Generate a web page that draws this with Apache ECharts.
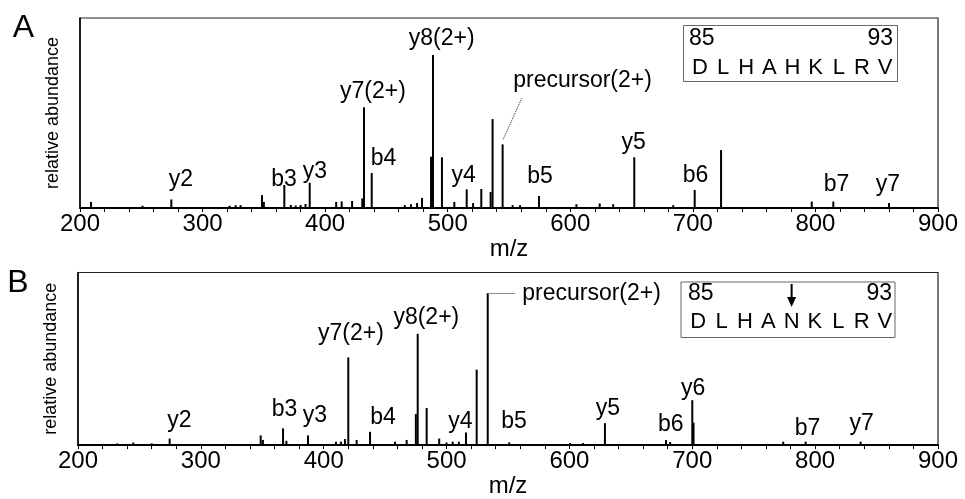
<!DOCTYPE html>
<html><head><meta charset="utf-8">
<script src="https://cdn.jsdelivr.net/npm/echarts@6/dist/echarts.min.js"></script>
<style>html,body{margin:0;padding:0;background:#fff}#c{width:965px;height:499px}</style>
</head><body><div id="c"></div>
<script>
// ---------- data ----------
const xTicks = [200, 300, 400, 500, 600, 700, 800, 900];

// Panel A (wild type): peak m/z and relative height (% of panel height)
const peaksA_mz  = [209, 251, 274.5, 322, 327, 331, 348.5, 350, 366.7, 372, 376, 380, 384, 387.4, 409, 413.5, 422, 430.3, 431.7, 438, 465, 470, 475, 479, 486.4, 488, 495.3, 505.4, 515.5, 520.7, 527.4, 535, 536.6, 544.8, 553, 559, 574.5, 605, 624, 635, 652.2, 684, 701.5, 723, 797, 814.6, 860];
const peaksA_int = [3.2, 1.2, 4.5, 1.2, 1.5, 1.5, 6.8, 3.2, 12.1, 1.6, 1.3, 1.6, 2.1, 13.3, 3.2, 3.5, 3.7, 5, 53, 18.4, 1.5, 2, 2.6, 5.3, 27, 80.5, 26.7, 3.2, 9.8, 2.6, 10, 8.4, 46.8, 33.5, 1.5, 1.5, 6.3, 2, 2.4, 2, 26.7, 1.5, 9.5, 30.5, 3.4, 3.4, 2.6];

// Panel B (mutant): peak m/z and relative height
const peaksB_mz  = [232, 245, 260, 274.6, 348.7, 350.5, 366.9, 369.6, 387.2, 410, 414, 417.3, 420, 426.8, 437.7, 458, 467.5, 475, 476.5, 483.8, 494, 500, 505, 510, 515.8, 524.5, 533.5, 551, 600.5, 611, 628.9, 678.6, 682, 700, 701, 774, 792.3, 837];
const peaksB_int = [1, 1.5, 1, 3.8, 5.6, 3, 9.7, 2.5, 5.6, 2, 2, 3.5, 50.8, 3, 7.7, 2, 3, 18, 64.5, 21.5, 3.8, 1.5, 2, 2, 7.3, 43.7, 88, 1.6, 1.2, 1.2, 12.7, 2.9, 1.8, 26, 13, 2, 2, 2];

// Fragment annotations: label, m/z position, height level
const annA_text  = ['y2', 'b3', 'y3', 'y7(2+)', 'b4', 'y8(2+)', 'y4', 'precursor(2+)', 'b5', 'y5', 'b6', 'b7', 'y7'];
const annA_mz    = [282.4, 366.4, 391.7, 439.0, 447.6, 495.1, 512.9, 610.0, 575.3, 651.6, 702.2, 817.2, 859.2];
const annA_level = [14.7, 14.7, 18.9, 61.1, 25.9, 89.1, 17.2, 67.2, 16.3, 34.4, 17.2, 12.3, 12.3];

const annB_text  = ['y2', 'b3', 'y3', 'y7(2+)', 'b4', 'y8(2+)', 'y4', 'b5', 'precursor(2+)', 'y5', 'b6', 'y6', 'b7', 'y7'];
const annB_mz    = [282.6, 368.1, 392.9, 422.2, 448.2, 483.5, 511.3, 554.9, 618.0, 631.4, 682.5, 700.8, 793.8, 837.9];
const annB_level = [14.3, 20.5, 16.9, 64.8, 16.1, 74.0, 13.4, 13.4, 87.9, 21.4, 11.6, 32.9, 9.8, 12.5];

// precursor leader lines [mz, level]
const leaderA = [[560.4, 57.7], [545, 35.8]];
const leaderB = [[535, 88], [555.7, 88]];

// peptide sequence insets
const seqStart = '85', seqEnd = '93';
const seqA = ['D', 'L', 'H', 'A', 'H', 'K', 'L', 'R', 'V'];
const seqB = ['D', 'L', 'H', 'A', 'N', 'K', 'L', 'R', 'V'];
const mutationIndex = 4;

// ---------- chart ----------
const FF = '"Liberation Sans", Arial, Helvetica, sans-serif';
const INK = '#000';
const chart = echarts.init(document.getElementById('c'), null, {renderer: 'canvas'});

function xAxis(gi, gap) {
  return {
    gridIndex: gi, type: 'value', min: 200, max: 900, interval: 100,
    axisLine: {show: true, onZero: false, lineStyle: {color: '#000', width: 2}},
    axisTick: {show: true, length: 4, lineStyle: {color: '#000', width: 1}},
    minorTick: {show: true, splitNumber: 5, length: 4, lineStyle: {color: '#000', width: 1}},
    splitLine: {show: false},
    axisLabel: {fontSize: 24, color: INK, fontFamily: FF, margin: 4,
      formatter: v => xTicks.indexOf(v) >= 0 ? String(v) : ''},
    name: 'm/z', nameLocation: 'middle', nameGap: gap,
    nameTextStyle: {fontSize: 24, color: INK, fontFamily: FF}
  };
}
function yAxis(gi) {
  return {
    gridIndex: gi, type: 'value', min: 0, max: 100,
    axisLine: {show: true, lineStyle: {color: '#000', width: 1.5}},
    axisTick: {show: false}, axisLabel: {show: false}, splitLine: {show: false},
    name: 'relative abundance', nameLocation: 'middle', nameGap: 18,
    nameTextStyle: {fontSize: 18, color: INK, fontFamily: FF}
  };
}
function bars(gi, mz, h) {
  return {
    type: 'bar', xAxisIndex: gi, yAxisIndex: gi, barWidth: 2,
    data: mz.map((m, i) => [m, h[i]]),
    itemStyle: {color: INK, opacity: 1}, silent: true, animation: false
  };
}
function labels(gi, txt, mz, lv, leader) {
  return {
    type: 'scatter', xAxisIndex: gi, yAxisIndex: gi, symbolSize: 0, silent: true, animation: false, z: 5,
    itemStyle: {opacity: 1},
    data: txt.map((t, i) => ({name: t, value: [mz[i], lv[i]]})),
    label: {show: true, position: 'inside', formatter: '{b}', fontSize: 23, color: INK, opacity: 1, fontFamily: FF},
    markLine: {
      symbol: 'none', silent: true, animation: false, label: {show: false},
      lineStyle: {type: 'dotted', color: '#222', width: 1, opacity: 1},
      data: [[{coord: leader[0]}, {coord: leader[1]}]]
    }
  };
}

const gText = (x, y, text, size, align) => ({
  type: 'text', x, y, silent: true,
  style: {text, fontSize: size, fontFamily: FF, fill: INK, align: align || 'center', verticalAlign: 'middle'}
});

const graphics = [];
graphics.push(gText(23.5, 28, 'A', 32));
graphics.push(gText(18, 283, 'B', 32));
// inset A
graphics.push({type: 'rect', shape: {x: 683.5, y: 25.5, width: 214, height: 56}, style: {fill: '#fff', stroke: '#666', lineWidth: 1}, z: 10});
graphics.push(Object.assign(gText(689, 39, seqStart, 23, 'left'), {z: 11}));
graphics.push(Object.assign(gText(893, 39, seqEnd, 23, 'right'), {z: 11}));
seqA.forEach((c, i) => graphics.push(Object.assign(gText(700 + i * 23.125, 67.5, c, 22), {z: 11})));
// inset B
graphics.push({type: 'rect', shape: {x: 681, y: 282, width: 214, height: 55.5}, style: {fill: '#fff', stroke: '#666', lineWidth: 1}, z: 10});
graphics.push(Object.assign(gText(688, 293.5, seqStart, 23, 'left'), {z: 11}));
graphics.push(Object.assign(gText(892, 293.5, seqEnd, 23, 'right'), {z: 11}));
seqB.forEach((c, i) => graphics.push(Object.assign(gText(698.3 + i * 23.33, 321.7, c, 22), {z: 11})));
const ax = 698.3 + mutationIndex * 23.33;
graphics.push({type: 'line', shape: {x1: ax, y1: 284, x2: ax, y2: 300}, style: {stroke: INK, lineWidth: 2}, z: 11});
graphics.push({type: 'polygon', shape: {points: [[ax - 4.5, 297], [ax + 4.5, 297], [ax, 307]]}, style: {fill: INK}, z: 11});

chart.setOption({
  animation: false,
  backgroundColor: '#fff',
  grid: [
    {left: 80, right: 27, top: 18, height: 190, show: true, borderColor: '#222', borderWidth: 1.2, backgroundColor: 'transparent'},
    {left: 78, right: 27, top: 272.5, height: 188, show: true, borderColor: '#222', borderWidth: 1.2, backgroundColor: 'transparent'}
  ],
  xAxis: [xAxis(0, 14), xAxis(1, 21)],
  yAxis: [yAxis(0), yAxis(1)],
  series: [
    bars(0, peaksA_mz, peaksA_int),
    bars(1, peaksB_mz, peaksB_int),
    labels(0, annA_text, annA_mz, annA_level, leaderA),
    labels(1, annB_text, annB_mz, annB_level, leaderB)
  ],
  graphic: graphics
});
</script></body></html>
